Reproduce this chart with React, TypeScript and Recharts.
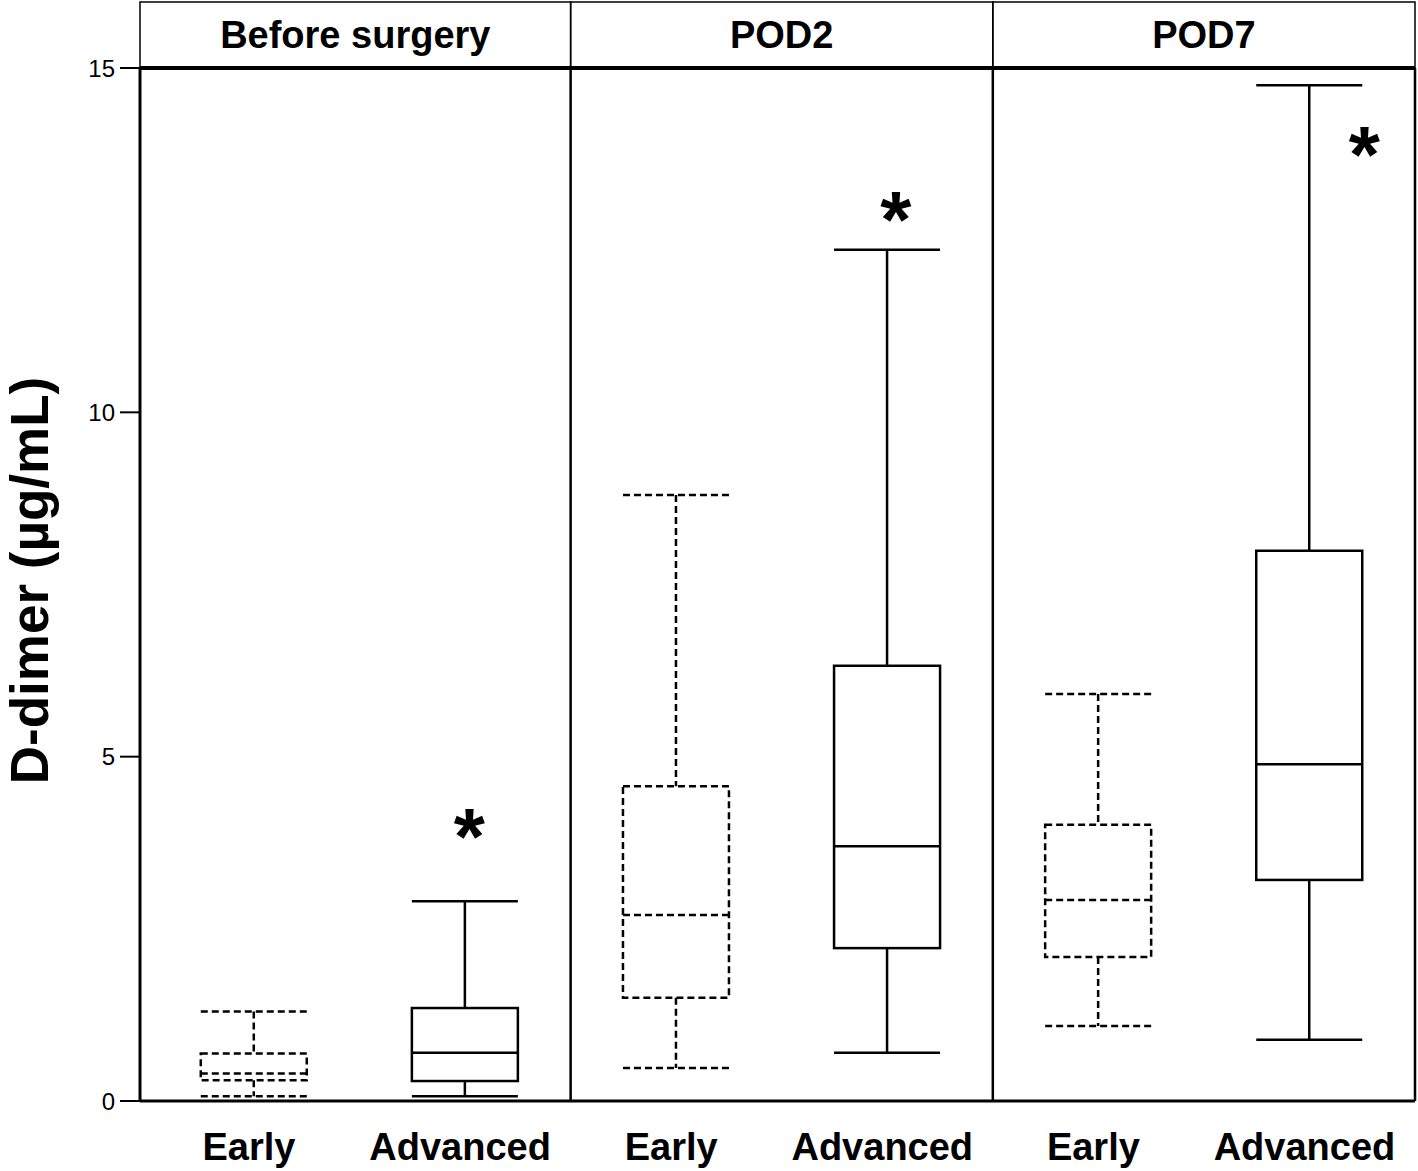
import { Bar, ComposedChart, ReferenceArea, ReferenceLine, Scatter, XAxis, YAxis } from "recharts";

const PANELS = ["Before surgery", "POD2", "POD7"];
const STAGES = ["Early", "Advanced"];

// order: Before Early, Before Advanced, POD2 Early, POD2 Advanced, POD7 Early, POD7 Advanced
const WHISKER_LOW = [0.07, 0.07, 0.48, 0.7, 1.09, 0.89];
const Q1 = [0.3, 0.29, 1.5, 2.22, 2.09, 3.21];
const MEDIAN = [0.4, 0.7, 2.7, 3.7, 2.92, 4.89];
const Q3 = [0.69, 1.35, 4.57, 6.32, 4.01, 7.99];
const WHISKER_HIGH = [1.3, 2.9, 8.8, 12.36, 5.91, 14.75];

// significance marks (x in panel units, y in µg/mL)
const STAR_X = [0.76, 1.77, 2.88];
const STAR_Y = [4.0, 12.95, 13.9];

const Y_TICKS = [0, 5, 10, 15];
const X_MIN = -0.02;
const Y_MAX = 15;
const STRIP_TOP = 15.96; // header strip top edge, in y units

const BOX_W = 106;

const rows = WHISKER_LOW.map((low, i) => ({
  x: Math.floor(i / 2) + (i % 2 ? 0.75 : 0.25),
  stage: STAGES[i % 2],
  low,
  q1: Q1[i],
  median: MEDIAN[i],
  q3: Q3[i],
  high: WHISKER_HIGH[i],
}));

const stars = STAR_X.map((x, i) => ({ x, y: STAR_Y[i] }));

const FONT = "'Liberation Sans', Arial, Helvetica, sans-serif";

function BoxShape(props: any) {
  const { x, y, width, height, payload } = props;
  const top = Math.min(y, y + height);
  const k = Math.abs(height) / (payload.high - payload.low);
  const at = (v: number) => top + (payload.high - v) * k;
  const cx = x + width / 2;
  const l = cx - BOX_W / 2;
  const r = cx + BOX_W / 2;
  const s = {
    stroke: "#000",
    strokeWidth: 2.5,
    strokeDasharray: payload.stage === "Early" ? "7 4" : undefined,
    fill: "none",
  };
  return (
    <g>
      <line x1={cx} x2={cx} y1={at(payload.high)} y2={at(payload.q3)} {...s} />
      <line x1={cx} x2={cx} y1={at(payload.q1)} y2={at(payload.low)} {...s} />
      <line x1={l} x2={r} y1={at(payload.high)} y2={at(payload.high)} {...s} />
      <line x1={l} x2={r} y1={at(payload.low)} y2={at(payload.low)} {...s} />
      <rect x={l} y={at(payload.q3)} width={BOX_W} height={at(payload.q1) - at(payload.q3)} {...s} />
      <line x1={l} x2={r} y1={at(payload.median)} y2={at(payload.median)} {...s} />
    </g>
  );
}

function Star(props: any) {
  const { cx, cy } = props;
  return (
    <text x={cx} y={cy + 38} textAnchor="middle" fontSize={80} fontWeight="bold" fill="#000">
      *
    </text>
  );
}

const stripLabel = (text: string) => ({ viewBox }: any) => (
  <text
    x={viewBox.x + viewBox.width / 2}
    y={viewBox.y + viewBox.height / 2}
    textAnchor="middle"
    dominantBaseline="central"
    fontSize={38}
    fontWeight="bold"
    fill="#000"
  >
    {text}
  </text>
);

export default function App() {
  return (
    <div style={{ position: "absolute", left: 0, top: 0, width: 1418, height: 1171, background: "#fff", fontFamily: FONT }}>
      <ComposedChart width={1418} height={1171} data={rows} margin={{ top: 68, right: 3, bottom: 0, left: 0 }}>
        <XAxis
          dataKey="x"
          type="number"
          domain={[X_MIN, 3]}
          ticks={rows.map((r) => r.x)}
          tickFormatter={(_v: number, i: number) => STAGES[i % 2]}
          height={70}
          tickSize={0}
          tickMargin={32}
          tickLine={false}
          axisLine={{ stroke: "#000", strokeWidth: 3 }}
          tick={{ fontSize: 38, fontWeight: "bold", fill: "#000", dx: -5 }}
        />
        <YAxis
          type="number"
          domain={[0, Y_MAX]}
          ticks={Y_TICKS}
          width={140}
          tickSize={20}
          tickMargin={5}
          tick={{ fontSize: 24, fill: "#000" }}
          tickLine={{ stroke: "#000", strokeWidth: 2 }}
          axisLine={{ stroke: "#000", strokeWidth: 3 }}
          label={({ viewBox }: any) => {
            const cx = viewBox.x + 29;
            const cy = viewBox.y + viewBox.height / 2 - 4;
            return (
              <text
                x={cx}
                y={cy}
                transform={`rotate(-90 ${cx} ${cy})`}
                textAnchor="middle"
                dominantBaseline="central"
                fontSize={53}
                fontWeight="bold"
                fill="#000"
              >
                D-dimer (µg/mL)
              </text>
            );
          }}
        />
        {PANELS.map((p, i) => (
          <ReferenceArea
            key={p}
            x1={i === 0 ? X_MIN : i}
            x2={i + 1}
            y1={Y_MAX}
            y2={STRIP_TOP}
            ifOverflow="visible"
            fill="none"
            stroke="#000"
            strokeWidth={1.5}
            label={stripLabel(p)}
          />
        ))}
        <ReferenceLine y={Y_MAX} stroke="#000" strokeWidth={4} />
        <ReferenceLine x={1} stroke="#000" strokeWidth={2.5} />
        <ReferenceLine x={2} stroke="#000" strokeWidth={2.5} />
        <ReferenceLine x={3} stroke="#000" strokeWidth={2.5} />
        <Bar dataKey={(d: any) => [d.low, d.high]} barSize={BOX_W} shape={BoxShape} isAnimationActive={false} />
        <Scatter data={stars} dataKey="y" shape={Star} isAnimationActive={false} />
      </ComposedChart>
    </div>
  );
}
